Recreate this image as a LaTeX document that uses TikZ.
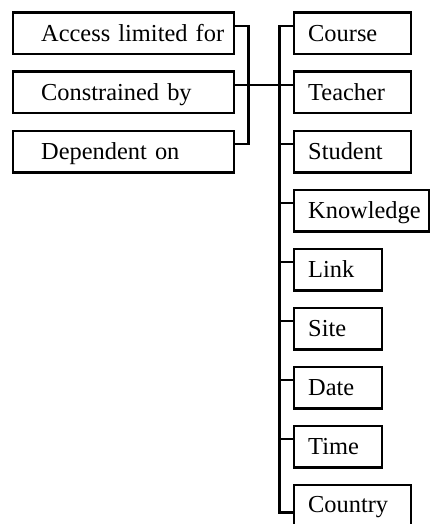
\documentclass[tikz,border=0pt]{standalone}
\usepackage{fontspec}
\setmainfont{Liberation Serif}
\usetikzlibrary{positioning}
\tikzset{
  box/.style={draw, line width=1.2pt, inner xsep=0pt, minimum height=20.8pt, text height=8.1pt, text depth=0pt, align=left, font=\fontsize{12.2}{14}\selectfont},
  lbox/.style={box, text width=110.3pt, execute at begin node={\hspace*{14pt}}},
  rbox/.style={box, text width=#1, execute at begin node={\hspace*{7pt}}},
  rbox/.default=58.3pt,
  wire/.style={line width=1.2pt},
  under/.style={below=of #1.south west, anchor=north west},
}
\begin{document}
\begin{tikzpicture}[node distance=7.5pt]
\useasboundingbox (0,0) rectangle (215pt,-262pt);
\clip (0,0) rectangle (215pt,-262pt);
\node[lbox, anchor=north west] (acc) at (6pt,-5.75pt) {Access limited for};
\node[lbox, below=of acc] (con) {Constrained by};
\node[lbox, below=of con] (dep) {Dependent on};

\node[rbox, anchor=north west] (cou) at (146.5pt,-5.75pt) {Course};
\node[rbox, under=cou] (tea) {Teacher};
\node[rbox, under=tea] (stu) {Student};
\node[rbox=67.3pt, under=stu] (kno) {Knowledge};
\node[rbox=43.8pt, under=kno] (lnk) {Link};
\node[rbox=43.8pt, under=lnk] (sit) {Site};
\node[rbox=43.8pt, under=sit] (dat) {Date};
\node[rbox=43.8pt, under=dat] (tim) {Time};
\node[rbox, under=tim, text height=10.35pt, text depth=14pt] (ctr) {Country};

% left bracket
\draw[wire] ([yshift=3.75pt]acc.east) -- ++(6.75pt,0) |- ([yshift=3.75pt]dep.east);
\draw[wire] ([yshift=3.75pt]con.east) -- ([yshift=3.75pt]tea.west);
% right spine
\draw[wire] ([yshift=3.75pt]cou.west) -- ++(-6.75pt,0) |- ([yshift=-14.5pt]ctr.north west);
\foreach \n in {stu,kno,lnk,sit,dat,tim}
  \draw[wire] ([yshift=3.75pt]\n.west) -- ++(-6.75pt,0);
\end{tikzpicture}
\end{document}
